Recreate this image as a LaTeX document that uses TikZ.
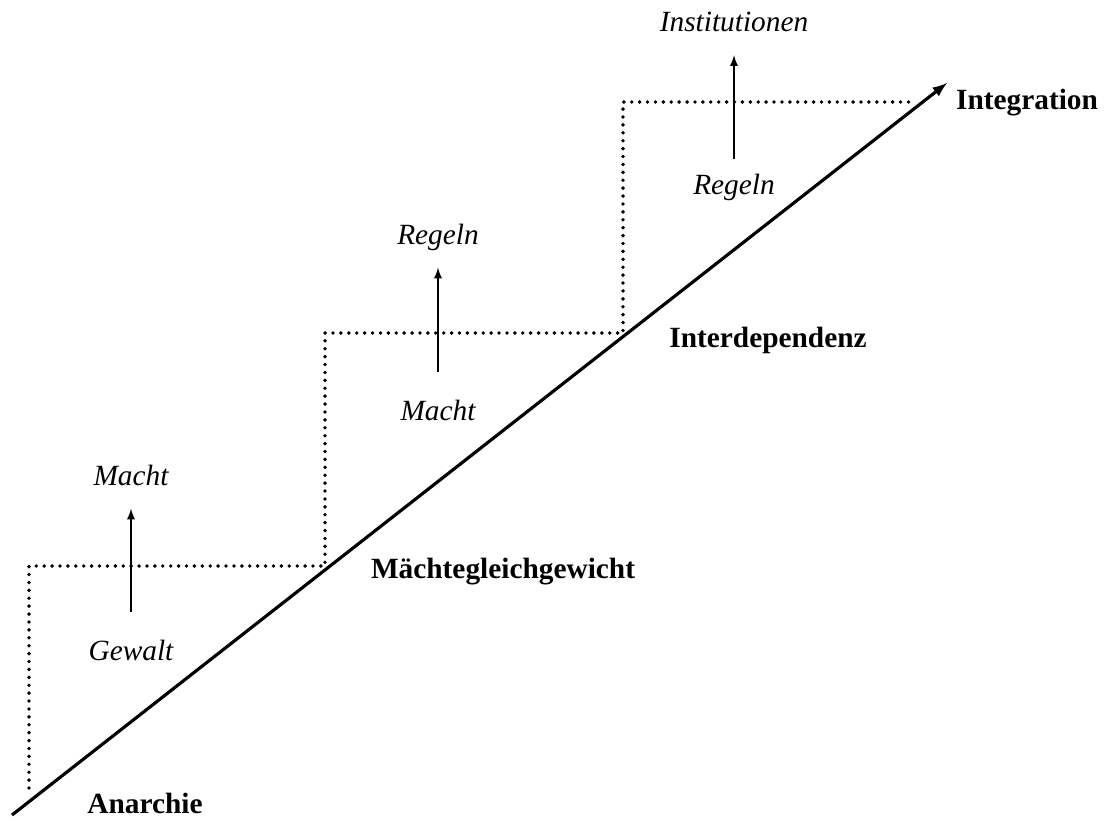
\documentclass[tikz,border=0pt]{standalone}
\usepackage{fontspec}
\setmainfont{Liberation Serif}
\usepackage{tikz}
\usetikzlibrary{arrows,calc}

\tikzset{
  stage/.style={inner sep=0pt, font=\fontsize{16.7}{20}\selectfont\bfseries},
  force/.style={inner sep=0pt, font=\fontsize{16.7}{20}\selectfont\itshape},
  rise/.style={-latex, line width=1.1pt},
  stairs/.style={line width=2.2pt, line cap=round, dash pattern=on 0pt off 4.5pt}
}

\begin{document}
\begin{tikzpicture}[x=0.02cm,y=-0.02cm]
\useasboundingbox (0,0) rectangle (1104,821);
\draw [stairs] (29,788) -- (29,566) -- (325,566) -- (325,333) -- (623,333) -- (623,102) -- (910,102);
\coordinate (start) at (12,815);
\coordinate (goal) at (947,83);
\draw [-latex, line width=1.8pt] (start) -- (goal);
\node [stage] (anarchie) at (145,803) {Anarchie};
\node [stage] (gleichgewicht) at (503,572) {Mächtegleichgewicht};
\node [stage] (interdependenz) at (768,340) {Interdependenz};
\node [stage] (integration) at (1027,103) {Integration};
\node [force] (gewalt) at (131,650) {Gewalt};
\node [force] (machtA) at (131,475) {Macht};
\node [force] (machtB) at (438,410) {Macht};
\node [force] (regelnA) at (438,237) {Regeln};
\node [force] (regelnB) at (734,187) {Regeln};
\node [force] (institutionen) at (734,22) {Institutionen};
\draw [rise, shorten <=0.54cm, shorten >=0.46cm] (gewalt.north) -- (machtA.south);
\draw [rise, shorten <=0.54cm, shorten >=0.34cm] (machtB.north) -- (regelnA.south);
\draw [rise, shorten <=0.28cm, shorten >=0.46cm] (regelnB.north) -- (institutionen.south);
\end{tikzpicture}
\end{document}
